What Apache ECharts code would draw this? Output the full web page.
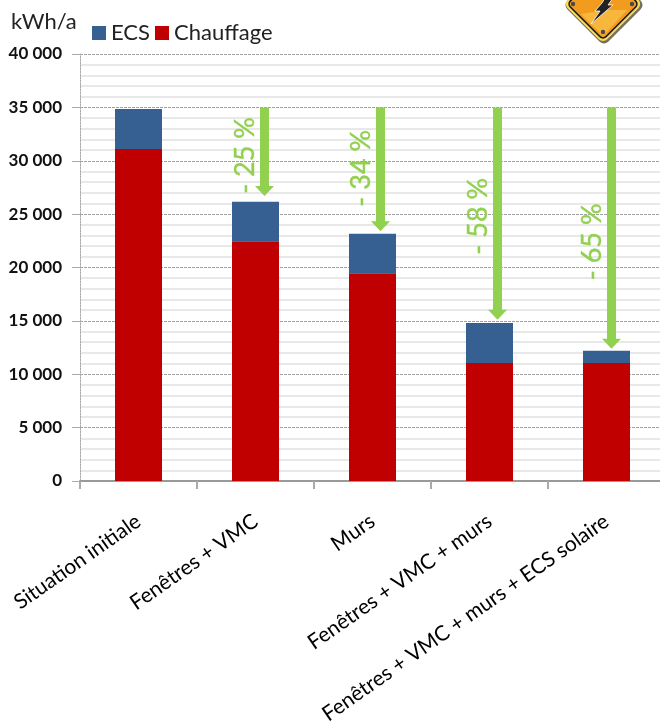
<!DOCTYPE html>
<html>
<head>
<meta charset="utf-8">
<style>html,body{margin:0;padding:0;background:#fff;overflow:hidden}#chart{width:660px;height:722px}</style>
<script src="https://cdn.jsdelivr.net/npm/echarts@6/dist/echarts.min.js"></script>
</head>
<body>
<div id="chart"></div>
<script>
// Annual energy use per renovation scenario, kWh/a
const categories = ['Situation initiale', 'Fenêtres + VMC', 'Murs', 'Fenêtres + VMC + murs', 'Fenêtres + VMC + murs + ECS solaire'];
const chauffage = [31100, 22450, 19450, 11050, 11050];
const ecs = [3750, 3700, 3700, 3750, 1150];

// Savings arrows: category index, start, tip, label height, label
const arrowIndex = [1, 2, 3, 4];
const arrowStart = [35000, 35000, 35000, 35000];
const arrowTip = [26700, 23400, 15100, 12400];
const arrowLabelAt = [30500, 29300, 24800, 22400];
const arrowLabels = ['- 25 %', '- 34 %', '- 58 %', '- 65 %'];
const arrowOffsets = [9, 8, 8, 5];

const FONT = 'Lato, "Open Sans", sans-serif';
const GREEN = '#92D050';

function renderArrow(params, api) {
  const i = params.dataIndex;
  const top = api.coord([api.value(0), api.value(1)]);
  const tip = api.coord([api.value(0), api.value(2)]);
  const lab = api.coord([api.value(0), api.value(3)]);
  const x = top[0] + arrowOffsets[i];
  const shaft = 4.5, head = 9.5, headH = 10;
  return {
    type: 'group',
    children: [
      {
        type: 'polygon',
        shape: { points: [
          [x - shaft, top[1]], [x + shaft, top[1]], [x + shaft, tip[1] - headH],
          [x + head, tip[1] - headH], [x, tip[1]], [x - head, tip[1] - headH], [x - shaft, tip[1] - headH]
        ] },
        style: { fill: GREEN }
      },
      {
        type: 'text',
        x: x - 19, y: lab[1], rotation: Math.PI / 2,
        style: { text: arrowLabels[i], font: '27px ' + FONT, fill: GREEN, stroke: GREEN, lineWidth: 0.4, align: 'center', verticalAlign: 'middle' }
      }
    ]
  };
}

// Warning sign in the top right corner
const badge = {
  type: 'group', x: 603, y: 4, silent: true,
  children: [
    { type: 'rect', x: 1, y: 1, rotation: Math.PI / 4, shape: { x: -29, y: -29, width: 58, height: 58, r: 6 }, style: { fill: '#77705a' } },
    { type: 'rect', rotation: Math.PI / 4, shape: { x: -28, y: -28, width: 56, height: 56, r: 6 }, style: { fill: '#f4dc62' } },
    { type: 'rect', rotation: Math.PI / 4, shape: { x: -26, y: -26, width: 52, height: 52, r: 5 }, style: { fill: '#1d1a12' } },
    { type: 'rect', rotation: Math.PI / 4, shape: { x: -24.5, y: -24.5, width: 49, height: 49, r: 4 }, style: { fill: '#f29c1f' } },
    { type: 'polygon', shape: { points: [[2, 6], [24, 6], [0, 32], [-22, 10]] }, style: { fill: '#f7b63c' } },
    { type: 'polygon', shape: { points: [[2, -6], [10, -6], [5, 1], [10, 1], [-12, 20], [-3, 7], [-8, 7], [-1, -1]] }, style: { fill: '#222', stroke: '#fff', lineWidth: 0.8 } },
    { type: 'circle', shape: { cx: -30, cy: 0, r: 2.2 }, style: { fill: '#4a4a4a' } },
    { type: 'circle', shape: { cx: 29, cy: 0, r: 2.2 }, style: { fill: '#4a4a4a' } },
    { type: 'circle', shape: { cx: 0, cy: 28, r: 2.2 }, style: { fill: '#4a4a4a' } }
  ]
};

const chart = echarts.init(document.getElementById('chart'), null, { renderer: 'canvas' });
chart.setOption({
  animation: false,
  backgroundColor: '#fff',
  textStyle: { fontFamily: FONT },
  grid: { left: 80, width: 585, top: 54, height: 427, containLabel: false, outerBoundsMode: 'none' },
  legend: {
    left: 87, top: 17, itemWidth: 14, itemHeight: 14, itemGap: 5,
    data: ['ECS', 'Chauffage'],
    textStyle: { fontFamily: FONT, fontSize: 22, color: '#222' },
    icon: 'rect'
  },
  graphic: [
    { type: 'text', left: 11, top: 11, style: { text: 'kWh/a', font: '22px ' + FONT, fill: '#222' } },
    badge
  ],
  xAxis: {
    type: 'category',
    data: categories,
    axisLine: { lineStyle: { color: '#999', width: 2 } },
    axisTick: { show: true, alignWithLabel: false, length: 8, lineStyle: { color: '#aaa', width: 2 } },
    axisLabel: { interval: 0, rotate: 35, fontSize: 21, color: '#000', margin: 38, fontFamily: FONT, hideOverlap: false },
    splitLine: { show: false }
  },
  yAxis: {
    type: 'value',
    min: 0, max: 40000, interval: 5000,
    minorTick: { show: false, splitNumber: 5 },
    minorSplitLine: { show: true, lineStyle: { color: '#e8e8e8', width: 2 } },
    splitLine: { show: true, lineStyle: { color: '#a0a0a0', width: 1, type: [3, 1] } },
    axisLine: { show: true, lineStyle: { color: '#aaa', width: 1, type: [2, 1] } },
    axisTick: { show: true, length: 8, lineStyle: { color: '#aaa', width: 1 } },
    axisLabel: {
      fontSize: 17, fontWeight: 'bold', color: '#111', margin: 18, fontFamily: FONT,
      formatter: v => String(v).replace(/\B(?=(\d{3})+$)/g, ' ')
    }
  },
  series: [
    { name: 'Chauffage', type: 'bar', stack: 'total', barWidth: 47, data: chauffage, itemStyle: { color: '#C00000' }, z: 3 },
    { name: 'ECS', type: 'bar', stack: 'total', barWidth: 47, data: ecs, itemStyle: { color: '#366092' }, z: 3 },
    {
      name: 'Économie', type: 'custom', renderItem: renderArrow, clip: false, z: 5,
      encode: { x: 0, y: [1, 2] },
      data: arrowIndex.map((c, i) => [c, arrowStart[i], arrowTip[i], arrowLabelAt[i]])
    }
  ]
});
</script>
</body>
</html>
